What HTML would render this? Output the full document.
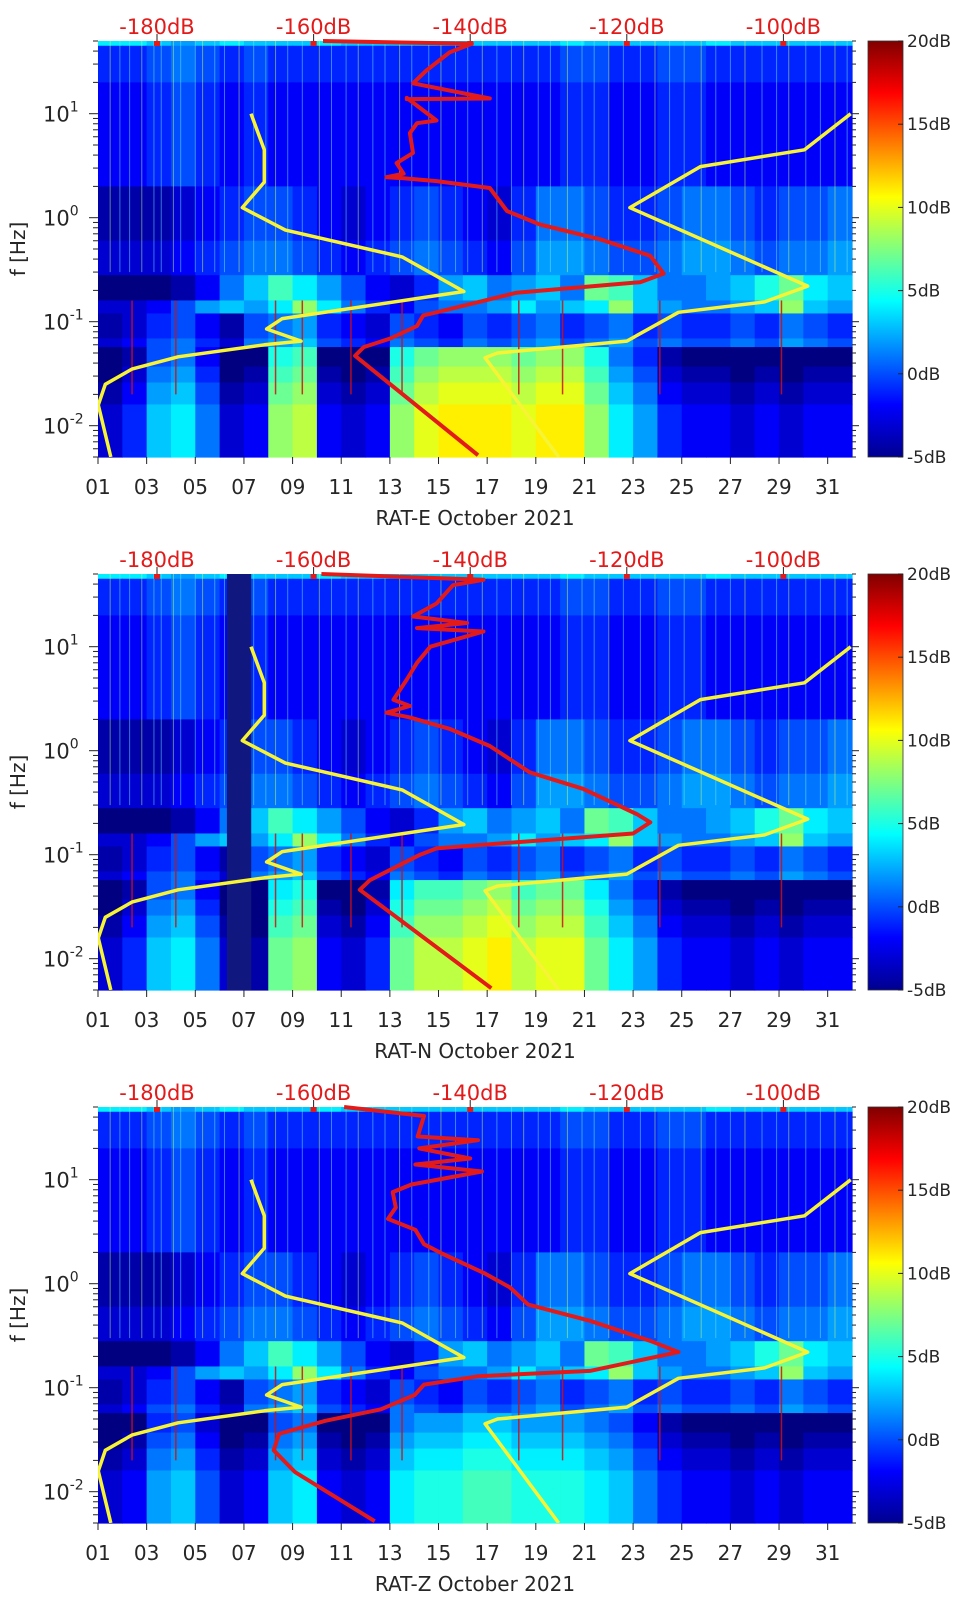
<!DOCTYPE html>
<html>
<head>
<meta charset="utf-8">
<style>
  html, body { margin: 0; padding: 0; background: #fff; }
  body { width: 962px; height: 1599px; overflow: hidden; }
  svg { display: block; }
  text { font-family: "DejaVu Sans", "Liberation Sans", sans-serif; }
</style>
</head>
<body>
<svg id="fig" width="962" height="1599" viewBox="0 0 962 1599" xmlns="http://www.w3.org/2000/svg">
  <defs>
    <linearGradient id="jet" x1="0" y1="1" x2="0" y2="0">
      <stop offset="0" stop-color="#00008f"/>
      <stop offset="0.125" stop-color="#0000ff"/>
      <stop offset="0.375" stop-color="#00ffff"/>
      <stop offset="0.625" stop-color="#ffff00"/>
      <stop offset="0.875" stop-color="#ff0000"/>
      <stop offset="1" stop-color="#800000"/>
    </linearGradient>
  </defs>
</svg>
<script>
// ---------- data ----------
const dayCount = 31;
const bandEdges = [50, 45, 20, 2, 0.6, 0.28, 0.16, 0.12, 0.069, 0.057, 0.037, 0.026, 0.016, 0.005];
const topLevel = [4, 4, 3, 2, 3, 4, 3, 3, 3, 4, 3, 3, 3, 3, 3, 3, 3, 3, 3, 4, 3, 3, 3, 3, 3, 4, 3, 3, 3, 3, 3];
const upperDay = [-2, -2, -1, 0, -1, -2, -1, -2, -2, -2, -2, -2, -2, -2, -2, -2, -2, -2, -2, -1, -1, -2, -2, -1, -1, -2, -2, -2, -2, -2, -2];
const cloudDay = [-3, -3, -3, -2, -1, 0, 1, 1, 0, -1, -2, -1, 0, 1, 0, -1, -2, 0, 2, 2, 1, 0, 0, 1, 2, 2, 1, 0, 1, 1, 2];
const bandHi = [-5, -5, -5, -4, -2, 1, 3, 6, 4, 2, 0, -2, -3, -1, 2, 3, 1, 2, 3, 1, 7, 6, 3, 1, 1, 2, 3, 5, 7, 4, 3];
const bandLo = [-3, -3, -2, 0, 2, 3, 2, 4, 8, 4, 1, -1, -2, 0, 1, 1, 2, 4, 2, 3, 4, 8, 3, 2, 1, 1, 2, 3, 8, 3, 2];
const bandMid = [-3, -2, 0, 1, -1, -3, 1, 2, 3, 0, -1, -2, 1, 0, -1, 1, 0, 1, 2, 0, 1, 2, 0, 1, 0, 0, 1, 0, 2, 1, 0];
const lowDayE = [-4, -2, 2, 3, 0, -4, -3, 7, 8, -3, -4, -3, 7, 9, 10, 10, 10, 9, 10, 10, 7, 3, 1, -2, -3, -3, -4, -3, -4, -3, -3];
const lowDayN = [-4, -2, 2, 3, 0, -4, -5, 6, 7, -3, -4, -2, 6, 8, 8, 9, 10, 8, 9, 9, 6, 3, 1, -2, -3, -3, -4, -3, -4, -3, -3];
const lowDayZ = [-4, -3, 1, 2, -1, -4, -3, 2, 3, -3, -4, -3, 3, 4, 4, 5, 5, 4, 4, 4, 3, 2, 0, -2, -3, -3, -4, -3, -4, -3, -3];
const streakDays = [1.5,1.9,2.3,2.8,3.3,3.6,4.1,4.4,5.0,5.3,5.8,6.2,6.8,7.4,7.9,8.3,8.8,9.4,10.1,10.6,11.2,11.7,12.3,12.8,13.4,13.9,14.6,15.1,15.7,16.2,16.8,17.4,18.0,18.5,19.1,19.6,20.3,20.9,21.4,22.0,22.6,23.3,23.9,24.5,25.1,25.8,26.4,27.0,27.6,28.3,28.9,29.4,30.1,30.7,31.3,31.8];
const redSpikeDays = [2.4, 4.2, 8.3, 9.4, 11.4, 13.5, 18.3, 20.1, 24.1, 29.1];
// Peterson noise models (freq Hz, dB)
const nlnmFreq = [0.005, 0.0158, 0.025, 0.035, 0.046, 0.060, 0.065, 0.085, 0.107, 0.195, 0.42, 0.76, 1.25, 2.2, 4.5, 10];
const nlnmDb = [-185.9, -187.5, -186.6, -183.2, -177.3, -166.3, -161.6, -166.0, -164.0, -140.8, -148.7, -163.6, -169.1, -166.3, -166.3, -168.0];
const nhnmFreq = [0.005, 0.045, 0.050, 0.065, 0.123, 0.155, 0.22, 1.25, 3.1, 4.5, 10];
const nhnmDb = [-128.7, -138.1, -136.5, -120.0, -113.4, -102.4, -96.9, -119.6, -110.6, -97.3, -91.4];
// red median PSD per panel
const redFreqE = [50, 47, 39, 26, 19.6, 14, 13.8, 14.2, 8.6, 8.1, 6.5, 4.2, 3.35, 2.65, 2.45, 2.4, 2.25, 1.93, 1.16, 0.86, 0.62, 0.43, 0.29, 0.24, 0.19, 0.123, 0.115, 0.091, 0.069, 0.057, 0.047, 0.0052];
const redDbE = [-158.8, -139.8, -142.6, -145.6, -147.3, -137.5, -148.1, -148.1, -144.3, -146.8, -147.7, -147.3, -149.4, -148.5, -150.7, -148.5, -144.3, -137.5, -135.3, -131.1, -123.4, -117.0, -115.3, -118.3, -134.1, -144.3, -146.0, -146.8, -150.2, -153.6, -154.7, -139.0];
const redFreqN = [50, 44, 39, 26, 19.5, 16.9, 15.1, 14.0, 10, 7.0, 4.84, 3.09, 2.69, 2.32, 2.09, 1.62, 1.11, 0.62, 0.43, 0.245, 0.205, 0.16, 0.132, 0.115, 0.10, 0.057, 0.046, 0.0052];
const redDbN = [-159.0, -138.3, -142.2, -144.3, -147.3, -140.4, -146.8, -138.3, -145.1, -146.8, -148.1, -149.8, -147.7, -150.7, -147.7, -142.6, -137.5, -132.4, -125.6, -118.7, -117.0, -119.2, -134.1, -144.3, -146.4, -152.8, -154.1, -137.3];
const redFreqZ = [50, 41, 26, 24, 20, 16, 14, 12, 9, 7.6, 5.4, 4.2, 3.3, 2.4, 1.95, 1.25, 0.92, 0.63, 0.44, 0.28, 0.22, 0.145, 0.129, 0.107, 0.085, 0.062, 0.048, 0.036, 0.025, 0.0155, 0.0052];
const redDbZ = [-156.1, -145.9, -146.7, -139.0, -146.5, -140.0, -147.0, -138.5, -147.5, -149.9, -149.5, -150.5, -147.0, -145.9, -143.6, -138.1, -134.9, -132.6, -124.7, -116.9, -113.4, -124.7, -138.9, -145.9, -147.1, -151.4, -158.5, -164.4, -165.1, -162.4, -152.2];
const dbTicks = [-180, -160, -140, -120, -100];
const dayTicks = ['01','03','05','07','09','11','13','15','17','19','21','23','25','27','29','31'];
const decadeExps = [1, 0, -1, -2];
const cbTicks = [20, 15, 10, 5, 0, -5];
const panelTitles = ['RAT-E October 2021', 'RAT-N October 2021', 'RAT-Z October 2021'];
const panelTops = [41, 574, 1107];
const gapDays = [null, [6.3, 7.3], null];

// ---------- helpers ----------
const NS = 'http://www.w3.org/2000/svg';
const svg = document.getElementById('fig');
const PL = 98, PR = 852, PH = 416;
const FMAX = 50, FMIN = 0.005;
function xDay(d) { return PL + (d - 1) * (PR - PL) / 31; }
function xDb(db) { return 157 + (db + 180) * 7.83; }
function yF(top, f) { return top + (Math.log10(FMAX) - Math.log10(f)) / (Math.log10(FMAX) - Math.log10(FMIN)) * PH; }
function clamp(v) { return Math.max(0, Math.min(1, v)); }
function jet(db) {
  const t = clamp((db + 5) / 25);
  const r = clamp(1.5 - Math.abs(4 * t - 3)), g = clamp(1.5 - Math.abs(4 * t - 2)), b = clamp(1.5 - Math.abs(4 * t - 1));
  return 'rgb(' + Math.round(r * 255) + ',' + Math.round(g * 255) + ',' + Math.round(b * 255) + ')';
}
function mk(tag, attrs, parent) {
  const e = document.createElementNS(NS, tag);
  for (const k in attrs) e.setAttribute(k, attrs[k]);
  (parent || svg).appendChild(e);
  return e;
}
function bandValue(b, d, low) {
  switch (b) {
    case 0: return topLevel[d];
    case 1: return upperDay[d] + 1;
    case 2: return upperDay[d];
    case 3: return cloudDay[d] - 1;
    case 4: return cloudDay[d];
    case 5: return bandHi[d];
    case 6: return bandLo[d];
    case 7: return bandMid[d] - 1;
    case 8: return bandMid[d];
    case 9: return low[d] - 2;
    case 10: return low[d] - 1;
    case 11: return low[d];
    default: return low[d] + 1;
  }
}

const lows = [lowDayE, lowDayN, lowDayZ];
const reds = [[redFreqE, redDbE], [redFreqN, redDbN], [redFreqZ, redDbZ]];

panelTops.forEach(function (top, p) {
  const g = mk('g', {});
  
  

  const hm = mk('g', {}, g);
  
  
  for (let b = 0; b < bandEdges.length - 1; b++) {
    const y0 = yF(top, bandEdges[b]), y1 = yF(top, bandEdges[b + 1]);
    for (let d = 0; d < dayCount; d++) {
      const x0 = xDay(d + 1), x1 = xDay(d + 2);
      const c = mk('rect', { x: x0.toFixed(2), y: y0.toFixed(2), width: (x1 - x0 + 0.6).toFixed(2), height: (y1 - y0 + 0.6).toFixed(2), fill: jet(bandValue(b, d, lows[p])) }, hm);
      
      
    }
  }
  streakDays.forEach(function (sd, i) {
    const s = mk('line', { x1: xDay(sd), x2: xDay(sd), y1: top, y2: yF(top, 0.3), stroke: i % 3 === 0 ? '#c8ff70' : '#70e8ff', 'stroke-width': 1, opacity: 0.5 }, g);
    
    
  });
  redSpikeDays.forEach(function (sd) {
    const s = mk('line', { x1: xDay(sd), x2: xDay(sd), y1: yF(top, 0.16), y2: yF(top, 0.02), stroke: '#d01010', 'stroke-width': 1.5, opacity: 0.85 }, g);
    
    
  });
  if (gapDays[p]) {
    const gp = mk('rect', { x: xDay(gapDays[p][0]), y: top, width: xDay(gapDays[p][1]) - xDay(gapDays[p][0]), height: PH, fill: '#101880' }, g);
    
    
  }

  const clip = 'clip' + p;
  const cp = mk('clipPath', { id: clip }, g);
  mk('rect', { x: PL, y: top - 2, width: PR - PL, height: PH + 2 }, cp);
  const cg = mk('g', { 'clip-path': 'url(#' + clip + ')' }, g);
  function curveIn(fr, db, color, width, name) {
    let d = '';
    for (let i = 0; i < fr.length; i++) d += (i ? 'L' : 'M') + xDb(db[i]).toFixed(1) + ',' + yF(top, fr[i]).toFixed(1);
    const c = mk('path', { d: d, fill: 'none', stroke: color, 'stroke-width': width, 'stroke-linejoin': 'round' }, cg);
    
    
  }
  curveIn(nlnmFreq, nlnmDb, '#f7f335', 3.5, 'nlnm-curve');
  curveIn(nhnmFreq, nhnmDb, '#f7f335', 3.5, 'nhnm-curve');
  curveIn(reds[p][0], reds[p][1], '#e31a1a', 4, 'median-psd-curve');

  dbTicks.forEach(function (v) {
    const x = xDb(v);
    mk('line', { x1: x, x2: x, y1: top, y2: top - 7, stroke: '#222', 'stroke-width': 1 }, g);
    const m = mk('rect', { x: x - 3, y: top, width: 6, height: 5, fill: '#e31a1a' }, g);
    
    
    const t = mk('text', { x: x, y: top - 7, 'text-anchor': 'middle', 'font-size': 21, fill: '#e31a1a' }, g);
    t.textContent = v + 'dB';
    
    
  });
  dayTicks.forEach(function (lab) {
    const x = xDay(parseInt(lab, 10));
    mk('line', { x1: x, x2: x, y1: top + PH, y2: top + PH + 7, stroke: '#222', 'stroke-width': 1 }, g);
    const t = mk('text', { x: x, y: top + PH + 37, 'text-anchor': 'middle', 'font-size': 20, fill: '#262626' }, g);
    t.textContent = lab;
    
    
  });
  const tt = mk('text', { x: (PL + PR) / 2, y: top + PH + 68, 'text-anchor': 'middle', 'font-size': 20, fill: '#262626' }, g);
  tt.textContent = panelTitles[p];
  
  

  decadeExps.forEach(function (e) {
    const y = yF(top, Math.pow(10, e));
    mk('line', { x1: PL - 9, x2: PL, y1: y, y2: y, stroke: '#222', 'stroke-width': 1 }, g);
    mk('line', { x1: PR, x2: PR + 7, y1: y, y2: y, stroke: '#222', 'stroke-width': 1 }, g);
    const t = mk('text', { x: 43, y: y + 8, 'font-size': 21, fill: '#262626' }, g);
    
    
    t.textContent = '10';
    const s = mk('tspan', { dy: -10, 'font-size': 14 }, t);
    s.textContent = String(e);
  });
  for (let e = -3; e <= 1; e++) {
    for (let k = 2; k <= 9; k++) {
      const f = k * Math.pow(10, e);
      if (f < FMIN || f > FMAX) continue;
      const y = yF(top, f);
      mk('line', { x1: PL - 5, x2: PL, y1: y, y2: y, stroke: '#222', 'stroke-width': 1 }, g);
      mk('line', { x1: PR, x2: PR + 4, y1: y, y2: y, stroke: '#222', 'stroke-width': 1 }, g);
    }
  }
  const yl = mk('text', { x: 0, y: 0, transform: 'translate(25,' + (top + 208) + ') rotate(-90)', 'text-anchor': 'middle', 'font-size': 20, fill: '#262626' }, g);
  yl.textContent = 'f [Hz]';
  
  

  const cb = mk('rect', { x: 868, y: top, width: 35, height: PH, fill: 'url(#jet)', stroke: '#333', 'stroke-width': 0.8 }, g);
  
  
  cbTicks.forEach(function (v) {
    const y = top + (20 - v) / 25 * PH;
    mk('line', { x1: 898, x2: 903, y1: y, y2: y, stroke: '#222', 'stroke-width': 1 }, g);
    const t = mk('text', { x: 907, y: y + 6, 'font-size': 17, fill: '#262626' }, g);
    t.textContent = v + 'dB';
    
    
  });
});
</script>
</body>
</html>
